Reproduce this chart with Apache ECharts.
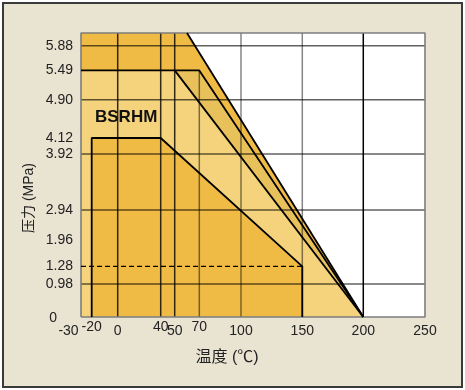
<!DOCTYPE html>
<html><head><meta charset="utf-8">
<script src="https://cdn.jsdelivr.net/npm/echarts@6/dist/echarts.min.js"></script>
<style>html,body{margin:0;padding:0;background:#fff}#c{width:465px;height:390px}</style>
</head><body><div id="c"></div>
<script>
// ---------------- data ----------------
const xTicks = [-30, -20, 0, 40, 50, 70, 100, 150, 200, 250];          // temperature ticks (°C)
const xTicksRaised = [-20, 40, 70];                                    // labels printed slightly higher
const yTicks = [0, 0.98, 1.28, 1.96, 2.94, 3.92, 4.12, 4.90, 5.49, 5.88]; // pressure ticks (MPa)
const yTickLabels = ['0', '0.98', '1.28', '1.96', '2.94', '3.92', '4.12', '4.90', '5.49', '5.88'];
const yTop = 6.08;                                                     // pressure at the top of the frame
const gridXValues = [0, 40, 50, 100, 150, 200];
const grid70Value = 70, grid70Top = 5.49;
const gridYValues = [0.98, 2.94, 3.92, 4.90, 5.88];

// rating curves: temperature (°C) / pressure (MPa)
const outerT = [-30, 60, 200];          const outerP = [yTop, yTop, 0];
const curveBT = [-30, 70, 200];         const curveBP = [5.49, 5.49, 0];
const curveCT = [-30, 50, 200];         const curveCP = [5.49, 5.49, 0];
const bsrhmT = [-20, -20, 40, 150, 150]; const bsrhmP = [0, 4.12, 4.12, 1.28, 0];
const dashT = [-30, 150];               const dashP = [1.28, 1.28];

// -------- schematic (non-linear) axis scale: where each tick sits along the axis (fraction) --------
const xKnotPos = [0, 0.0311, 0.1067, 0.2317, 0.2724, 0.3439, 0.4651, 0.6433, 0.8206, 1];
const yKnotVals = yTicks.concat([yTop]);
const yKnotPos = [0, 0.1162, 0.1782, 0.2722, 0.3768, 0.5739, 0.6303, 0.7651, 0.8683, 0.9553, 1];

function interp(v, vals, pos) {
  if (v <= vals[0]) return pos[0];
  for (let i = 0; i < vals.length - 1; i++) {
    if (v <= vals[i + 1]) return pos[i] + (v - vals[i]) / (vals[i + 1] - vals[i]) * (pos[i + 1] - pos[i]);
  }
  return pos[pos.length - 1];
}
const mx = v => interp(v, xTicks, xKnotPos);
const my = v => interp(v, yKnotVals, yKnotPos);
const pts = (T, P) => T.map((t, i) => [mx(t), my(P[i])]);

const DARK = '#F0BB44', MID = '#E8C15B', LIGHT = '#F4D37C';
const FONT = '"Liberation Sans", Arial, sans-serif';
const CJK = '"Liberation Sans", "Noto Sans CJK SC", sans-serif';

function area(T, P, color) {
  return { type: 'line', data: pts(T, P), symbol: 'none', silent: true,
    lineStyle: { width: 0, opacity: 0 }, areaStyle: { color: color, opacity: 1 } };
}
function stroke(data, color, width, type) {
  return { type: 'line', data: data, symbol: 'none', silent: true, clip: false,
    lineStyle: { color: color, width: width, type: type || 'solid' } };
}

const series = [
  area(outerT, outerP, DARK),
  area(curveBT, curveBP, MID),
  area(curveCT, curveCP, LIGHT),
  area(bsrhmT, bsrhmP, DARK)
];
// grid lines
gridXValues.forEach(v => {
  const strong = (v === 0 || v === 40 || v === 50 || v === 200);
  series.push(stroke([[mx(v), 0], [mx(v), 1]], strong ? (v === 200 ? '#000' : 'rgba(0,0,0,0.8)') : 'rgba(0,0,0,0.48)', 1.5));
});
series.push(stroke([[mx(grid70Value), 0], [mx(grid70Value), my(grid70Top)]], 'rgba(0,0,0,0.5)', 1.5));
gridYValues.forEach(v => series.push(stroke([[0, my(v)], [1, my(v)]], 'rgba(0,0,0,0.62)', 1.5)));
// frame
series.push(stroke([[0, 0], [1, 0], [1, 1], [0, 1], [0, 0]], '#7d7d7d', 1.6));
// dashed 1.28 line
series.push(stroke(pts(dashT, dashP), '#000', 1.3, [5, 3]));
// curve edges
series.push(stroke(pts(outerT.slice(1), outerP.slice(1)), '#000', 1.8));
series.push(stroke(pts(curveBT, curveBP), '#000', 1.8));
series.push(stroke(pts(curveCT.slice(1), curveCP.slice(1)), '#000', 1.8));
series.push(stroke(pts(bsrhmT, bsrhmP), '#000', 1.8));

function xLabel(raised) {
  return function (value) {
    let idx = 0, best = 1e9;
    xKnotPos.forEach((p, i) => { const d = Math.abs(p - value); if (d < best) { best = d; idx = i; } });
    const t = xTicks[idx];
    if (t === -30) return '{l|-30}';
    return String(t);
  };
}
const lowTicks = xTicks.filter(t => xTicksRaised.indexOf(t) < 0);
const labelBase = { fontFamily: FONT, fontSize: 14, color: '#222' };

const option = {
  animation: false,
  backgroundColor: '#fff',
  grid: { left: 81, top: 33, width: 344, height: 284, show: true, backgroundColor: '#fff', borderWidth: 0 },
  xAxis: [
    { type: 'value', min: 0, max: 1, position: 'bottom',
      axisLine: { show: false }, axisTick: { show: false }, splitLine: { show: false },
      axisLabel: Object.assign({}, labelBase, { margin: 7, customValues: lowTicks.map(mx), formatter: xLabel(false),
        rich: { l: Object.assign({}, labelBase, { padding: [0, 25, 0, 0] }) } }) },
    { type: 'value', min: 0, max: 1, position: 'bottom',
      axisLine: { show: false }, axisTick: { show: false }, splitLine: { show: false },
      axisLabel: Object.assign({}, labelBase, { margin: 3, customValues: xTicksRaised.map(mx), formatter: xLabel(true) }) }
  ],
  yAxis: {
    type: 'value', min: 0, max: 1,
    axisLine: { show: false }, axisTick: { show: false }, splitLine: { show: false },
    axisLabel: Object.assign({}, labelBase, {
      margin: 8, customValues: yTicks.map(my),
      formatter: function (value) {
        let idx = 0, best = 1e9;
        yTicks.forEach((t, i) => { const d = Math.abs(my(t) - value); if (d < best) { best = d; idx = i; } });
        return idx === 0 ? '{z|0}' : yTickLabels[idx];
      },
      rich: { z: Object.assign({}, labelBase, { padding: [2, 16, 0, 0] }) }
    })
  },
  graphic: [
    { type: 'rect', z: -10, shape: { x: 3, y: 3, width: 459, height: 384 },
      style: { fill: '#E9E3D2', stroke: '#3a3a3a', lineWidth: 2 } },
    { type: 'text', z: 100, x: 95, y: 117.5,
      style: { text: 'BSRHM', font: 'bold 17px ' + FONT, fill: '#111', textAlign: 'left', textVerticalAlign: 'middle' } },
    { type: 'text', z: 100, x: 29, y: 198, rotation: Math.PI / 2,
      style: { text: '压力 (MPa)', font: '14px ' + CJK, fill: '#222', textAlign: 'center', textVerticalAlign: 'middle' } },
    { type: 'text', z: 100, x: 227, y: 358,
      style: { text: '温度 (℃)', font: '16px ' + CJK, fill: '#222', textAlign: 'center', textVerticalAlign: 'middle' } }
  ],
  series: series
};
const chart = echarts.init(document.getElementById('c'), null, { renderer: 'canvas' });
chart.setOption(option);
</script>
</body></html>
